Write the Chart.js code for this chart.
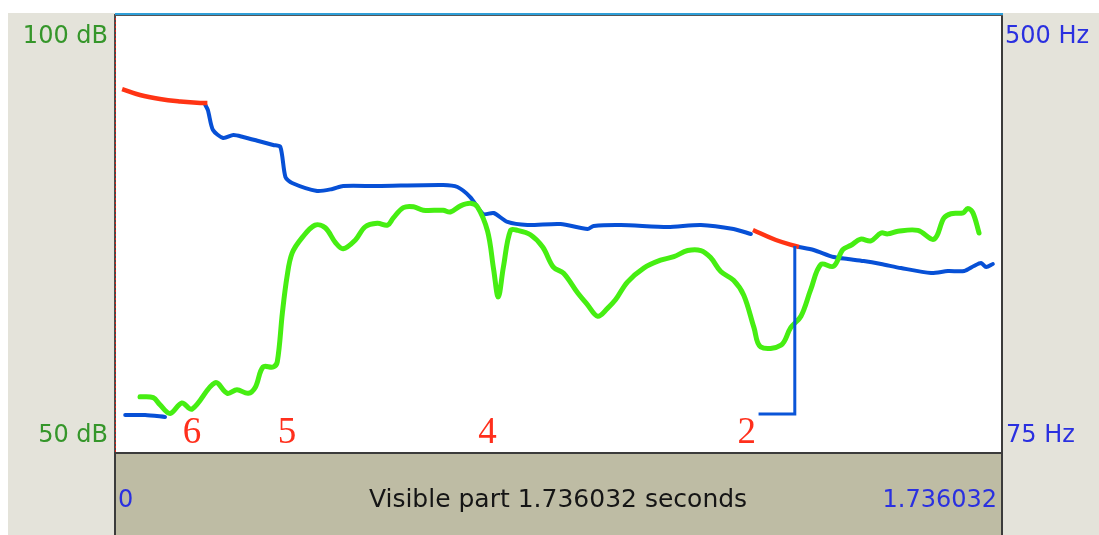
<!DOCTYPE html>
<html>
<head>
<meta charset="utf-8">
<script src="https://cdn.jsdelivr.net/npm/chart.js@4/dist/chart.umd.min.js"></script>
<style>
  html, body { margin: 0; padding: 0; background: #ffffff; overflow: hidden; }
  canvas { display: block; }
</style>
</head>
<body>
<canvas id="editor" width="1099" height="535"></canvas>
<script>
// Visible window and vertical ranges of the two contours
const visibleSeconds = 1.736032;
const dbRange = [50, 100];
const hzRange = [75, 500];

// Intensity contour (seconds, dB)
const intensityTime = [0.049, 0.075, 0.088, 0.108, 0.131, 0.151, 0.196, 0.220, 0.239, 0.261,
  0.275, 0.290, 0.310, 0.318, 0.328, 0.337, 0.347, 0.367, 0.392, 0.412,
  0.432, 0.447, 0.471, 0.490, 0.514, 0.534, 0.545, 0.565, 0.585, 0.604,
  0.643, 0.657, 0.677, 0.696, 0.710, 0.730, 0.742, 0.751, 0.761, 0.775,
  0.789, 0.814, 0.838, 0.859, 0.879, 0.906, 0.926, 0.946, 0.965, 0.981,
  1.004, 1.036, 1.069, 1.095, 1.122, 1.148, 1.167, 1.187, 1.212, 1.232,
  1.252, 1.265, 1.305, 1.324, 1.344, 1.363, 1.383, 1.408, 1.426, 1.442,
  1.461, 1.481, 1.501, 1.514, 1.534, 1.573, 1.605, 1.624, 1.638, 1.662,
  1.671, 1.681, 1.693];
const intensityDb = [56.3, 56.2, 55.4, 54.4, 55.6, 54.9, 57.9, 56.7, 57.1, 56.7,
  57.4, 59.7, 59.7, 60.3, 65.9, 70.0, 72.7, 74.5, 75.9, 75.6,
  73.9, 73.2, 74.2, 75.7, 76.1, 75.9, 76.7, 77.9, 78.0, 77.6,
  77.6, 77.4, 78.1, 78.4, 78.0, 75.2, 70.8, 67.7, 71.1, 75.3,
  75.3, 74.8, 73.4, 71.1, 70.4, 68.2, 66.8, 65.5, 66.4, 67.4,
  69.4, 71.0, 71.9, 72.3, 73.0, 73.0, 72.2, 70.6, 69.6, 67.9,
  64.2, 62.0, 62.2, 64.2, 65.5, 68.5, 71.4, 71.2, 73.1, 73.6,
  74.3, 74.1, 75.0, 74.9, 75.2, 75.3, 74.3, 76.7, 77.2, 77.3,
  77.8, 77.3, 75.0];

// Pitch contour (seconds, Hz); null marks an unvoiced gap
const pitchTime = [0.020, 0.059, 0.098, 0.135,
  0.176, 0.182, 0.192, 0.212, 0.232, 0.251, 0.281, 0.310, 0.324, 0.334,
  0.347, 0.396, 0.426, 0.447, 0.514, 0.643, 0.671, 0.696, 0.722, 0.742,
  0.769, 0.808, 0.873, 0.926, 0.938, 0.991, 1.083, 1.148, 1.212, 1.246,
  1.293,
  1.340, 1.369, 1.408, 1.436, 1.467, 1.501, 1.540, 1.599, 1.632, 1.664,
  1.683, 1.697, 1.707, 1.720];
const pitchHz = [110.9, 110.9, 109.0, null,
  412.7, 406.8, 387.4, 379.7, 382.6, 380.7, 376.8, 372.9, 371.0, 341.8,
  336.0, 328.3, 330.2, 333.1, 333.1, 334.1, 332.1, 322.4, 305.9, 306.9,
  298.2, 295.3, 296.2, 291.4, 294.3, 295.3, 293.3, 295.3, 291.4, 286.5,
  null,
  273.9, 271.0, 264.2, 262.3, 260.3, 257.4, 253.5, 248.7, 250.6, 250.6,
  255.5, 258.4, 254.5, 257.4];

// Octave jump back down near the end of the marked stretch
const jumpTime = [1.261, 1.332, 1.332];
const jumpHz = [111.9, 111.9, 274.9];

// Highlighted pitch stretches (seconds, Hz)
const markedTime = [0.014, 0.049, 0.088, 0.128, 0.167, 0.181, 0.500, 1.250, 1.295, 1.340];
const markedHz = [427.2, 421.4, 417.5, 415.1, 413.6, 413.6, null, 290.4, 280.7, 273.9];

// Tone numbers written under the syllables
const toneLabels = ['6', '5', '4', '2'];
const toneTimes = [0.151, 0.337, 0.730, 1.238];

const pairs = (xs, ys) => xs.map((x, i) => ({ x: x, y: ys[i] }));

const W = 1099, H = 535;

const editorFrame = {
  id: 'editorFrame',
  beforeDraw(chart) {
    const { ctx, chartArea: a } = chart;
    ctx.save();
    ctx.fillStyle = '#ffffff';
    ctx.fillRect(0, 0, W, H);
    ctx.fillStyle = '#e4e3da';
    ctx.fillRect(8, 13, W - 8, H - 13);
    ctx.fillStyle = '#ffffff';
    ctx.fillRect(a.left, a.top, a.right - a.left, a.bottom - a.top);
    ctx.fillStyle = '#bebca4';
    ctx.fillRect(a.left, a.bottom, a.right - a.left, H - a.bottom);
    ctx.restore();
  },
  afterDatasetsDraw(chart) {
    const { ctx, chartArea: a, scales } = chart;
    ctx.save();
    // tone numbers
    ctx.fillStyle = '#ff2f1c';
    ctx.font = '37px "Liberation Serif", "DejaVu Serif", serif';
    ctx.textAlign = 'center';
    ctx.textBaseline = 'alphabetic';
    toneLabels.forEach((lab, i) => {
      ctx.fillText(lab, scales.x.getPixelForValue(toneTimes[i]), a.bottom - 9);
    });
    ctx.restore();
  },
  afterDraw(chart) {
    const { ctx, chartArea: a } = chart;
    ctx.save();
    // frame lines
    ctx.strokeStyle = '#3b3b3b';
    ctx.lineWidth = 2;
    ctx.beginPath();
    ctx.moveTo(a.left, a.bottom + 1); ctx.lineTo(a.right + 1, a.bottom + 1);
    ctx.moveTo(a.right + 1, a.top); ctx.lineTo(a.right + 1, H);
    ctx.moveTo(a.left, a.bottom); ctx.lineTo(a.left, H);
    ctx.stroke();
    ctx.strokeStyle = '#4a4a4a';
    ctx.beginPath();
    ctx.moveTo(a.left, a.top); ctx.lineTo(a.left, a.bottom);
    ctx.stroke();
    ctx.strokeStyle = '#d8261e';
    ctx.lineWidth = 1;
    ctx.setLineDash([2, 2]);
    ctx.beginPath();
    ctx.moveTo(a.left + 0.5, a.top); ctx.lineTo(a.left + 0.5, a.bottom);
    ctx.stroke();
    ctx.setLineDash([]);
    ctx.strokeStyle = '#555555';
    ctx.lineWidth = 1;
    ctx.beginPath();
    ctx.moveTo(a.left, a.top + 1.5); ctx.lineTo(a.right + 2, a.top + 1.5);
    ctx.stroke();
    ctx.strokeStyle = '#2f9fd8';
    ctx.lineWidth = 2;
    ctx.beginPath();
    ctx.moveTo(a.left, a.top); ctx.lineTo(a.right + 2, a.top);
    ctx.stroke();

    // range labels
    ctx.font = '24px "DejaVu Sans", sans-serif';
    ctx.textBaseline = 'alphabetic';
    ctx.fillStyle = '#35962a';
    ctx.textAlign = 'right';
    ctx.fillText(dbRange[1] + ' dB', a.left - 7, a.top + 29);
    ctx.fillText(dbRange[0] + ' dB', a.left - 7, a.bottom - 10);
    ctx.fillStyle = '#2a30e0';
    ctx.textAlign = 'left';
    ctx.fillText(hzRange[1] + ' Hz', a.right + 4, a.top + 29);
    ctx.fillText(hzRange[0] + ' Hz', a.right + 5, a.bottom - 10);

    // time bar
    const base = a.bottom + 55;
    ctx.fillStyle = '#2a30e0';
    ctx.textAlign = 'left';
    ctx.fillText('0', a.left + 3, base);
    ctx.textAlign = 'right';
    ctx.fillText(String(visibleSeconds), a.right - 4, base);
    ctx.fillStyle = '#151515';
    ctx.textAlign = 'center';
    ctx.font = '25px "DejaVu Sans", sans-serif';
    ctx.fillText('Visible part ' + visibleSeconds + ' seconds', (a.left + a.right) / 2, base);
    ctx.restore();
  }
};

new Chart(document.getElementById('editor'), {
  type: 'line',
  data: {
    datasets: [
      {
        label: 'jump',
        data: pairs(jumpTime, jumpHz),
        yAxisID: 'hz',
        borderColor: '#0a55d8',
        borderWidth: 3,
        tension: 0,
        pointRadius: 0
      },
      {
        label: 'marked pitch',
        data: pairs(markedTime, markedHz),
        yAxisID: 'hz',
        borderColor: '#ff3414',
        borderWidth: 4.5,
        tension: 0.4,
        spanGaps: false,
        pointRadius: 0,
        borderCapStyle: 'butt'
      },
      {
        label: 'intensity',
        data: pairs(intensityTime, intensityDb),
        yAxisID: 'db',
        borderColor: '#46ee12',
        borderWidth: 5,
        tension: 0.35,
        pointRadius: 0,
        borderJoinStyle: 'round',
        borderCapStyle: 'round'
      },
      {
        label: 'pitch',
        data: pairs(pitchTime, pitchHz),
        yAxisID: 'hz',
        borderColor: '#0750d6',
        borderWidth: 4,
        tension: 0.25,
        spanGaps: false,
        pointRadius: 0,
        borderJoinStyle: 'round',
        borderCapStyle: 'round'
      }
    ]
  },
  options: {
    responsive: false,
    animation: false,
    events: [],
    layout: { padding: { left: 115, right: 98, top: 14, bottom: 83 } },
    plugins: { legend: { display: false }, tooltip: { enabled: false } },
    scales: {
      x: { type: 'linear', min: 0, max: visibleSeconds, display: false },
      db: { type: 'linear', position: 'left', min: dbRange[0], max: dbRange[1], display: false },
      hz: { type: 'linear', position: 'right', min: hzRange[0], max: hzRange[1], display: false }
    }
  },
  plugins: [editorFrame]
});
</script>
</body>
</html>
